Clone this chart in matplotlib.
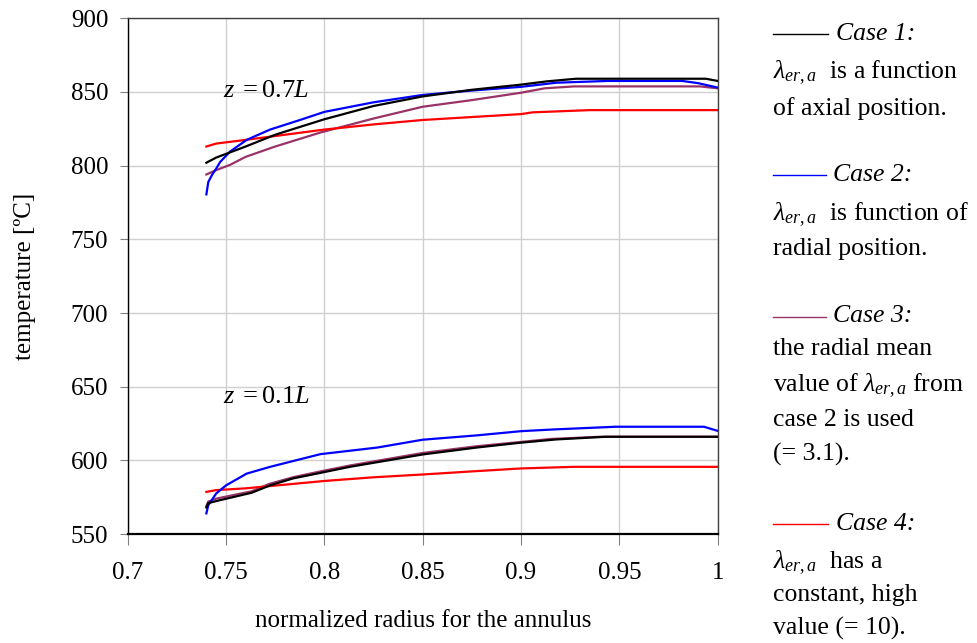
import matplotlib
matplotlib.use('Agg')
import matplotlib.pyplot as plt
from matplotlib.lines import Line2D

plt.rcParams['font.family'] = ['Liberation Serif', 'DejaVu Serif']
plt.rcParams['mathtext.fontset'] = 'custom'
plt.rcParams['mathtext.rm'] = 'Liberation Serif'
plt.rcParams['mathtext.it'] = 'Liberation Serif:italic'

# z = 0.7L
r1_07 = [0.740, 0.745, 0.750, 0.760, 0.775, 0.800, 0.825, 0.850, 0.875, 0.900, 0.913, 0.928, 0.994, 1.000]
t1_07 = [802, 805.5, 808, 813, 821, 831.5, 840.5, 847, 851.5, 855, 857.2, 859, 859, 857.5]
r2_07 = [0.740, 0.741, 0.743, 0.745, 0.747, 0.752, 0.7605, 0.7724, 0.7876, 0.800, 0.825, 0.850, 0.875, 0.900, 0.918, 0.944, 0.982, 0.990, 1.000]
t2_07 = [780.5, 789, 794, 798, 802.5, 809.5, 817.5, 824.5, 831, 836.5, 843, 848, 851, 853.5, 856.3, 857.5, 857.5, 856, 853]
r3_07 = [0.740, 0.745, 0.752, 0.760, 0.775, 0.798, 0.825, 0.850, 0.875, 0.900, 0.912, 0.927, 0.991, 1.000]
t3_07 = [794, 797, 800.5, 806, 813, 822.5, 832, 840, 844.5, 849.5, 852.5, 853.8, 853.8, 852.5]
r4_07 = [0.740, 0.745, 0.760, 0.780, 0.800, 0.825, 0.850, 0.875, 0.900, 0.906, 0.935, 1.000]
t4_07 = [813, 815, 817.5, 821, 824.5, 828, 831, 833, 835, 836.2, 837.7, 837.7]

# z = 0.1L
r1_01 = [0.740, 0.741, 0.747, 0.763, 0.7724, 0.784, 0.798, 0.813, 0.850, 0.8775, 0.900, 0.918, 0.943, 1.000]
t1_01 = [568, 571, 573, 578, 583, 587.7, 591.5, 595.6, 604, 608.7, 612, 614.2, 616, 616]
r2_01 = [0.740, 0.741, 0.745, 0.750, 0.7605, 0.7724, 0.798, 0.827, 0.850, 0.878, 0.900, 0.917, 0.948, 0.993, 1.000]
t2_01 = [564, 569.6, 577.5, 583, 591, 595.6, 604.2, 608.7, 614, 617, 619.8, 621, 622.8, 622.8, 620]
r3_01 = [0.740, 0.741, 0.745, 0.763, 0.772, 0.784, 0.798, 0.813, 0.850, 0.877, 0.900, 0.915, 0.940, 1.000]
t3_01 = [569, 572, 574, 579, 584, 588.5, 592.5, 596.5, 605, 609.5, 612.5, 614.5, 616, 616]
r4_01 = [0.740, 0.745, 0.760, 0.780, 0.800, 0.825, 0.850, 0.875, 0.900, 0.927, 1.000]
t4_01 = [578.6, 579.8, 581, 583.5, 586, 588.5, 590.4, 592.5, 594.5, 595.6, 595.6]

x_ticks = [0.7, 0.75, 0.8, 0.85, 0.9, 0.95, 1.0]
x_labels = ['0.7', '0.75', '0.8', '0.85', '0.9', '0.95', '1']
y_ticks = [550, 600, 650, 700, 750, 800, 850, 900]

fig = plt.figure(figsize=(9.77, 6.43), dpi=100)
ax = fig.add_axes([0.1307, 0.1695, 0.6039, 0.802])

black, blue, purple, red = '#000000', '#0000ff', '#993366', '#ff0000'
fs = 18.5
lw = 1.6
for r, t, c in [(r3_07, t3_07, purple), (r4_07, t4_07, red), (r2_07, t2_07, blue), (r1_07, t1_07, black),
                (r3_01, t3_01, purple), (r4_01, t4_01, red), (r2_01, t2_01, blue), (r1_01, t1_01, black)]:
    ax.plot(r, t, color=c, lw=lw, solid_joinstyle='miter')

ax.set_xlim(0.7, 1.0)
ax.set_ylim(550, 900)
ax.set_xticks(x_ticks)
ax.set_xticklabels(x_labels)
ax.set_yticks(y_ticks)
ax.grid(True, color='#d0d0d0', lw=1)
ax.set_axisbelow(True)
ax.tick_params(axis='both', labelsize=18, direction='out', color='#808080')
ax.tick_params(axis='y', length=6, pad=8)
ax.tick_params(axis='x', length=8, pad=12)
for s in ['top', 'right']:
    ax.spines[s].set_color('#404040')
    ax.spines[s].set_linewidth(1)
ax.spines['left'].set_linewidth(1)
ax.spines['bottom'].set_linewidth(1.6)

ax.set_xlabel('normalized radius for the annulus', fontsize=18, labelpad=19)
ax.set_ylabel('temperature [ºC]', fontsize=18, labelpad=25)

ax.text(0.7485, 851, r'$z\;=0.7L$', fontsize=19, va='center', ha='left')
ax.text(0.7485, 643, r'$z\;=0.1L$', fontsize=19, va='center', ha='left')

# legend on the right side, pixel positions converted to figure fraction
W, H = 977, 643
def fy(py):
    return 1 - py / H

lam = r'$\lambda_{er,a}$'
entries = [
    (black, 33.5, 828, 'Case 1:', 836, [(78, lam + '  is a function'), (115, 'of axial position.')]),
    (blue, 175.5, 826, 'Case 2:', 833, [(220, lam + '  is function of'), (255, 'radial position.')]),
    (purple, 316.5, 826, 'Case 3:', 833, [(355, 'the radial mean'), (391.5, 'value of ' + lam + ' from'),
                                          (426.5, 'case 2 is used'), (461, '(= 3.1).')]),
    (red, 524, 828, 'Case 4:', 836, [(568, lam + '  has a'), (601.5, 'constant, high'), (635, 'value (= 10).')]),
]
for c, ly, lx2, title, tx, lines in entries:
    fig.add_artist(Line2D([773 / W, lx2 / W], [fy(ly), fy(ly)], color=c, lw=1))
    fig.text(tx / W, fy(ly), title, fontsize=fs, style='italic', va='center', ha='left')
    for by, s in lines:
        fig.text(773 / W, fy(by), s, fontsize=fs, va='baseline', ha='left')

fig.savefig('out.png', dpi=100)
